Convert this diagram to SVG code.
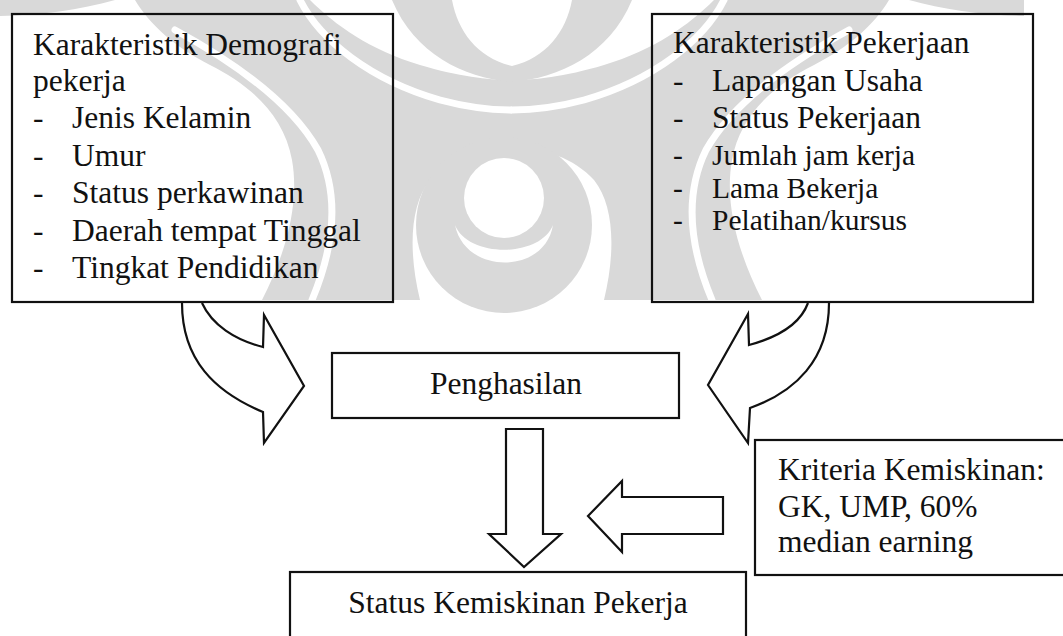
<svg xmlns="http://www.w3.org/2000/svg" width="1063" height="636" viewBox="0 0 1063 636">
<style>
.wm{fill:#d9d9d9;stroke:none}
.wl{fill:none;stroke:#fff;stroke-width:7;stroke-linecap:round}
.box{fill:none;stroke:#111;stroke-width:2.2}
.arr{fill:none;stroke:#111;stroke-width:2.2;stroke-linejoin:miter}
.t{font-family:"Liberation Serif","Times New Roman",serif;font-size:31.5px;fill:#111}
.s{font-size:29.5px}
.c{text-anchor:middle}
</style>
<defs>
<g id="wmhalf">
<path class="wm" d="M0,0 L115,0 C80,10 40,15 0,16 Z"/>
<path class="wm" d="M135,0 L310,0 C335,25 370,50 420,65 C460,77 490,80 512,80 L512,148 C480,148 450,158 430,180 C410,205 408,250 420,300 L262,300 C285,255 300,205 292,160 C284,115 250,85 210,65 C175,47 150,25 135,0 Z"/>
<path class="wm" d="M392,0 L452,0 C458,32 478,58 512,66 L512,82 C465,78 415,55 392,0 Z"/>
<path class="wl" d="M175,30 C230,60 290,100 318,150 C340,195 335,245 312,300"/>
<path class="wl" d="M300,0 C320,40 370,80 440,100 C470,108 495,110 512,110"/>
</g>
</defs>
<g id="watermark">
<use href="#wmhalf"/>
<use href="#wmhalf" transform="translate(1024,0) scale(-1,1)"/>
<circle class="wm" cx="504" cy="225" r="88"/>
<circle cx="504" cy="198" r="40" fill="#fff"/>
<path d="M455,225 C465,275 545,275 553,225 C540,258 468,258 455,225 Z" fill="#fff"/>
</g>
<g id="connectors">
<path class="arr" d="M182,303 C182,360 215,392 263,412 L264,443 L304,386 L264,315 L263,347 C235,340 212,325 202,303"/>
<path class="arr" d="M829,303 C829,360 795,392 750,408 L748,443 L708,385 L748,314 L749,345 C775,338 800,325 808,303"/>
<path class="arr" d="M506,429 L543,429 L543,534 L561,534 L524,567 L489,534 L506,534 Z"/>
<path class="arr" d="M723,497 L622,497 L622,481 L588,516 L622,552 L622,534 L723,534 Z"/>
</g>
<g id="demografi">
<rect class="box" x="12" y="14" width="381" height="288"/>
<text class="t" x="33" y="55">Karakteristik Demografi</text>
<text class="t" x="33" y="91">pekerja</text>
<text class="t" x="33" y="128">-</text><text class="t" x="72" y="128">Jenis Kelamin</text>
<text class="t" x="33" y="166">-</text><text class="t" x="72" y="166">Umur</text>
<text class="t" x="33" y="203">-</text><text class="t" x="72" y="203">Status perkawinan</text>
<text class="t" x="33" y="241">-</text><text class="t" x="72" y="241">Daerah tempat Tinggal</text>
<text class="t" x="33" y="278">-</text><text class="t" x="72" y="278">Tingkat Pendidikan</text>
</g>
<g id="pekerjaan">
<rect class="box" x="652" y="14" width="381" height="288"/>
<text class="t" x="673" y="53">Karakteristik Pekerjaan</text>
<text class="t" x="673" y="91">-</text><text class="t" x="712" y="91">Lapangan Usaha</text>
<text class="t" x="673" y="128">-</text><text class="t" x="712" y="128">Status Pekerjaan</text>
<text class="t s" x="673" y="165">-</text><text class="t s" x="712" y="165">Jumlah jam kerja</text>
<text class="t s" x="673" y="197.5">-</text><text class="t s" x="712" y="197.5">Lama Bekerja</text>
<text class="t s" x="673" y="230">-</text><text class="t s" x="712" y="230">Pelatihan/kursus</text>
</g>
<g id="penghasilan">
<rect class="box" x="332" y="353" width="347" height="65"/>
<text class="t c" x="506" y="394">Penghasilan</text>
</g>
<g id="kriteria">
<rect class="box" x="755" y="440" width="320" height="135"/>
<text class="t" x="778" y="480">Kriteria Kemiskinan:</text>
<text class="t" x="778" y="517">GK, UMP, 60%</text>
<text class="t" x="778" y="552">median earning</text>
</g>
<g id="status">
<rect class="box" x="290" y="572" width="456" height="80"/>
<text class="t c" x="518" y="613">Status Kemiskinan Pekerja</text>
</g>
</svg>
